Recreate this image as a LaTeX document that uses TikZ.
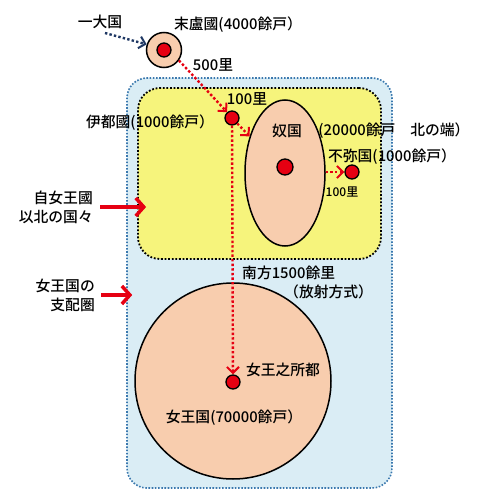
\documentclass[tikz,border=0pt]{standalone}
\usepackage{fontspec}
\setmainfont{Noto Sans CJK JP}[UprightFont={* Medium}]
\usetikzlibrary{arrows.meta,shapes.geometric}
\definecolor{seablue}{HTML}{DAEDF5}
\definecolor{edgeblue}{HTML}{3A78AE}
\definecolor{fieldyellow}{HTML}{F6F47C}
\definecolor{peach}{HTML}{F8CDAE}
\definecolor{routered}{HTML}{E60012}
\definecolor{navyline}{HTML}{1F3864}

\begin{document}
\begin{tikzpicture}[x=1pt,y=-1pt,
  lbl/.style={font=\fontsize{14.8}{19}\selectfont, inner sep=0pt},
  small/.style={font=\fontsize{12}{13}\selectfont, inner sep=0pt},
  dot/.style={circle, draw=black, line width=1.3pt, fill=routered, minimum size=14pt, inner sep=0pt},
  route/.style={draw=routered, line width=2.4pt, dash pattern=on 2.4pt off 2.2pt,
    -{Straight Barb[length=6pt,width=12pt,line width=2pt]}},
  push/.style={draw=routered, line width=3.5pt, -{Straight Barb[length=8pt,width=18pt,line width=3.5pt]}}]
\useasboundingbox (0,0) rectangle (480,503);

% regions
\node[draw=edgeblue, fill=seablue, line width=1.6pt, dash pattern=on 1.6pt off 1.6pt,
  rounded corners=20pt, minimum width=265pt, minimum height=410pt] (realm) at (259.5,283) {};
\node[draw=black, fill=fieldyellow, line width=1.8pt, dash pattern=on 1.8pt off 1.8pt,
  rounded corners=22pt, minimum width=243pt, minimum height=171pt] (north) at (259.5,173.5) {};
\node[ellipse, draw=black, fill=peach, line width=1.5pt, minimum width=80pt, minimum height=146pt,
  inner sep=0pt] (naoval) at (285,173) {};
\node[circle, draw=black, fill=peach, line width=1.5pt, minimum size=196pt, inner sep=0pt]
  (jooland) at (233,381) {};
\node[circle, draw=black, fill=peach, line width=1.5pt, minimum size=35pt, inner sep=0pt]
  (mring) at (164,50) {};

% countries
\node[dot] (matsuro) at (164,50) {};
\node[dot] (ito) at (232,118) {};
\node[dot, minimum size=16pt] (na) at (285,167) {};
\node[dot] (fumi) at (352,172) {};
\node[dot] (joou) at (233,382) {};

% labels
\node[lbl] (ikilbl) at (100,22) {一大国};
\node[lbl] (matsurolbl) at (238,25) {末盧國(4000餘戸）};
\node[lbl] (li500) at (213,65) {500里};
\node[lbl] (li100) at (247,99) {100里};
\node[lbl] (itolbl) at (150,123) {伊都國(1000餘戸）};
\node[lbl] (nalbl) at (287,131) {奴国};
\node[lbl] (nainfo) at (394,131) {(20000餘戸\hspace{1em}北の端）};
\node[lbl] (fumilbl) at (392,157) {不弥国(1000餘戸）};
\node[small] (li100b) at (342,192) {100里};
\node[lbl, align=right, anchor=east] (kitalbl) at (93,207) {自女王國\\以北の国々};
\node[lbl, align=right, anchor=east] (shihailbl) at (95,295) {女王国の\\支配圏};
\node[lbl, anchor=west] (nanpo) at (242,273) {南方1500餘里};
\node[lbl, anchor=west] (hosha) at (284,292) {（放射方式）};
\node[lbl] (miyako) at (283,370) {女王之所都};
\node[lbl] (joolbl) at (234,418) {女王国(70000餘戸）};

% routes
\coordinate (iki) at (105,33);
\draw[route, draw=navyline] (iki) -- (mring.162);
\draw[route] (mring.-35) -- (ito.130);
\draw[route] (ito) -- (naoval);
\draw[route] (ito) -- (joou);
\draw[route] (naoval.east |- fumi) -- (fumi);

% pointers
\draw[push, shorten <=7pt, shorten >=-9pt] (kitalbl.east) -- (kitalbl.east -| north.west);
\draw[push, shorten <=6pt, shorten >=-6pt] (shihailbl.east) -- (shihailbl.east -| realm.west);
\end{tikzpicture}
\end{document}
